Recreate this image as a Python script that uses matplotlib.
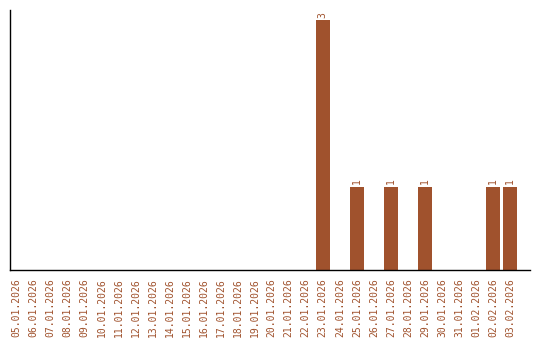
import matplotlib
matplotlib.use("Agg")
import matplotlib.pyplot as plt

# data
dates = ["05.01.2026", "06.01.2026", "07.01.2026", "08.01.2026", "09.01.2026",
         "10.01.2026", "11.01.2026", "12.01.2026", "13.01.2026", "14.01.2026",
         "15.01.2026", "16.01.2026", "17.01.2026", "18.01.2026", "19.01.2026",
         "20.01.2026", "21.01.2026", "22.01.2026", "23.01.2026", "24.01.2026",
         "25.01.2026", "26.01.2026", "27.01.2026", "28.01.2026", "29.01.2026",
         "30.01.2026", "31.01.2026", "01.02.2026", "02.02.2026", "03.02.2026"]
counts = [0, 0, 0, 0, 0, 0, 0, 0, 0, 0, 0, 0, 0, 0, 0, 0, 0, 0,
          3, 0, 1, 0, 1, 0, 1, 0, 0, 0, 1, 1]

color = "#a0522d"

fig = plt.figure(figsize=(5.4, 3.4), dpi=100)
ax = fig.add_axes([10 / 540, 70 / 340, 520 / 540, 260 / 340])

x = list(range(len(dates)))
bars = ax.bar(x, counts, width=14 / 17, color=color)

for xi, c in zip(x, counts):
    if c > 0:
        ax.text(xi, c + 0.03, str(c), rotation=90, ha="center", va="bottom",
                fontsize=7, color=color, family="DejaVu Sans Mono")

ax.set_xlim(-6.5 / 17, 29 + 20 / 17)
ax.set_ylim(0, 3 * 260 / 250)
ax.set_xticks(x)
ax.set_xticklabels(dates, rotation=90, fontsize=7, color=color,
                   family="DejaVu Sans Mono")
ax.tick_params(axis="x", length=0, pad=6)
ax.set_yticks([])

ax.spines["top"].set_visible(False)
ax.spines["right"].set_visible(False)
ax.spines["left"].set_linewidth(1)
ax.spines["bottom"].set_linewidth(1)

fig.savefig("out.png", dpi=100)
